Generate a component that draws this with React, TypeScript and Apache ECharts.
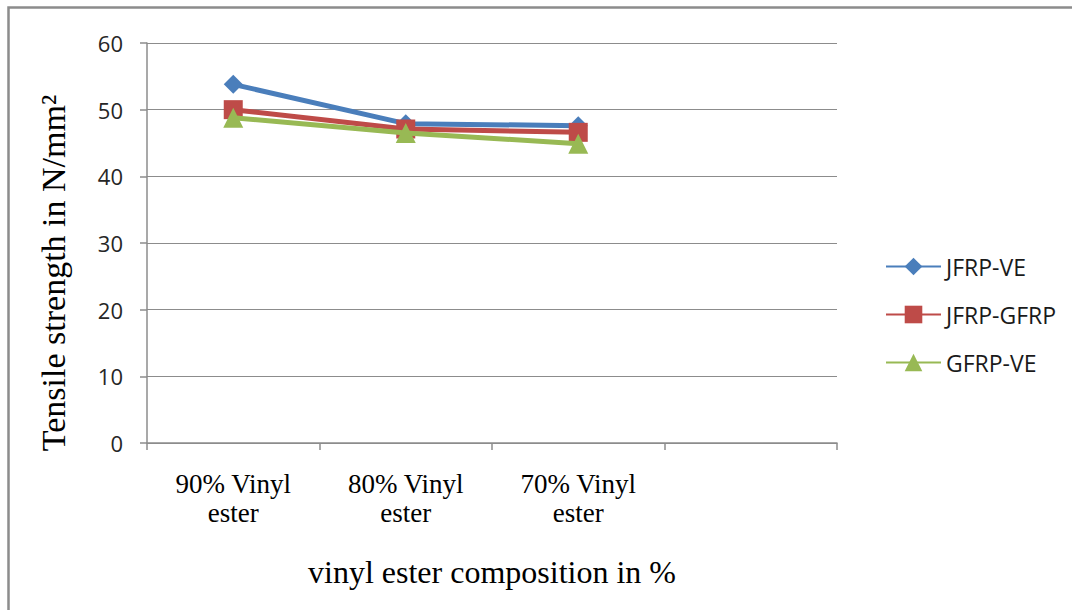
import React, { useEffect, useRef } from "react";
import * as echarts from "echarts";

const categories = ["90% Vinyl\nester", "80% Vinyl\nester", "70% Vinyl\nester", ""];
const jfrpVe = [53.8, 47.9, 47.6];
const jfrpGfrp = [50.0, 47.1, 46.6];
const gfrpVe = [48.8, 46.5, 44.9];
const yTicks = { min: 0, max: 60, interval: 10 };

export default function App() {
  const ref = useRef<HTMLDivElement>(null);
  useEffect(() => {
    if (!ref.current) return;
    const chart = echarts.init(ref.current, undefined, { renderer: "svg" });
    const serif = "'Liberation Serif', 'Times New Roman', serif";
    const sans = "'Open Sans', 'Liberation Sans', sans-serif";
    const gridColor = "#8c8c8c";
    chart.setOption({
      animation: false,
      backgroundColor: "#ffffff",
      graphic: [
        {
          type: "rect",
          shape: { x: 8.5, y: 7.5, width: 1200, height: 800 },
          style: { fill: "none", stroke: "#8c8c8c", lineWidth: 2.5 },
          silent: true,
        },
      ],
      grid: { left: 147, top: 43, right: 235, bottom: 167, containLabel: false },
      legend: {
        orient: "vertical",
        left: 880,
        top: 250,
        itemWidth: 55,
        itemHeight: 22,
        itemGap: 25,
        textStyle: { fontFamily: sans, fontSize: 23, color: "#1a1a1a" },
        data: ["JFRP-VE", "JFRP-GFRP", "GFRP-VE"],
      },
      xAxis: {
        type: "category",
        data: categories,
        boundaryGap: true,
        name: "vinyl ester composition in %",
        nameLocation: "middle",
        nameGap: 113,
        nameTextStyle: { fontFamily: serif, fontSize: 32, color: "#000" },
        axisLine: { lineStyle: { color: gridColor, width: 1.5 } },
        axisTick: { show: true, interval: 0, length: 7, lineStyle: { color: gridColor, width: 1.5 } },
        axisLabel: {
          interval: 0,
          margin: 26,
          fontFamily: serif,
          fontSize: 27,
          lineHeight: 29,
          color: "#000",
        },
      },
      yAxis: {
        type: "value",
        min: yTicks.min,
        max: yTicks.max,
        interval: yTicks.interval,
        name: "Tensile strength in N/mm²",
        nameLocation: "middle",
        nameGap: 77,
        nameRotate: 90,
        nameTextStyle: { fontFamily: serif, fontSize: 34, color: "#000", padding: [0, 60, 0, 0] },
        axisLine: { show: true, lineStyle: { color: gridColor, width: 1.5 } },
        axisTick: { show: true, length: 7, lineStyle: { color: gridColor, width: 1.5 } },
        axisLabel: { margin: 24, fontFamily: sans, fontSize: 22, color: "#262626" },
        splitLine: { show: true, lineStyle: { color: gridColor, width: 1.2 } },
      },
      series: [
        {
          name: "JFRP-VE",
          type: "line",
          data: jfrpVe,
          symbol: "diamond",
          symbolSize: 19,
          lineStyle: { color: "#4a7ebb", width: 5 },
          itemStyle: { color: "#4a7ebb" },
          z: 3,
        },
        {
          name: "JFRP-GFRP",
          type: "line",
          data: jfrpGfrp,
          symbol: "rect",
          symbolSize: 19,
          lineStyle: { color: "#be4b48", width: 5 },
          itemStyle: { color: "#be4b48" },
          z: 4,
        },
        {
          name: "GFRP-VE",
          type: "line",
          data: gfrpVe,
          symbol: "triangle",
          symbolSize: 20,
          lineStyle: { color: "#98b954", width: 5 },
          itemStyle: { color: "#98b954" },
          z: 5,
        },
      ],
    });
    return () => chart.dispose();
  }, []);
  return (
    <div
      ref={ref}
      style={{ position: "fixed", left: 0, top: 0, width: 1072, height: 610, background: "#fff" }}
    />
  );
}
